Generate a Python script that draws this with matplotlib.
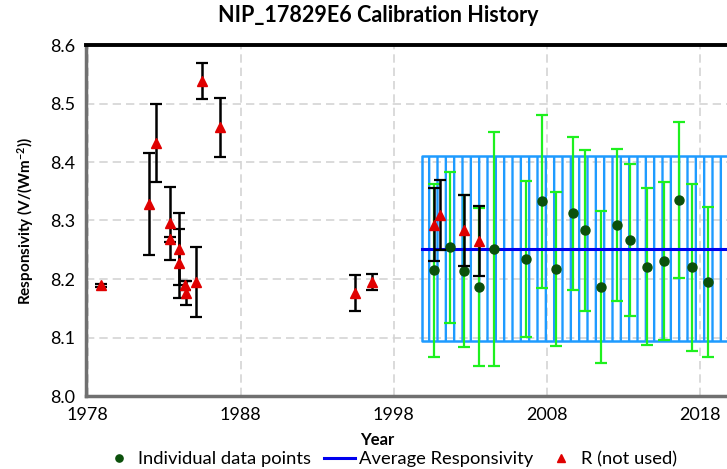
import numpy as np
import matplotlib
matplotlib.use('Agg')
import matplotlib.pyplot as plt

plt.rcParams['font.family'] = ['Lato', 'DejaVu Sans']
plt.rcParams['mathtext.default'] = 'regular'
plt.rcParams['hatch.linewidth'] = 1.7

# individual data points (used)
green_year = [2000.67, 2001.69, 2002.6, 2003.58, 2004.6, 2006.63, 2007.71, 2008.61, 2009.72,
              2010.52, 2011.56, 2012.63, 2013.48, 2014.54, 2015.65, 2016.63, 2017.52, 2018.54]
green_val = [8.215, 8.254, 8.214, 8.187, 8.252, 8.234, 8.333, 8.217, 8.312,
             8.283, 8.186, 8.293, 8.267, 8.221, 8.230, 8.335, 8.220, 8.195]
green_err = [0.148, 0.129, 0.130, 0.135, 0.200, 0.133, 0.148, 0.132, 0.130,
             0.138, 0.130, 0.130, 0.130, 0.134, 0.135, 0.133, 0.143, 0.128]

# R (not used)
red_year = [1978.9, 1982.0, 1982.5, 1983.4, 1983.4, 1984.0, 1984.0, 1984.35, 1984.45,
            1985.1, 1985.5, 1986.65, 1995.5, 1996.6, 2000.65, 2001.05, 2002.6, 2003.6]
red_val = [8.189, 8.328, 8.432, 8.295, 8.268, 8.251, 8.227, 8.189, 8.176,
           8.195, 8.539, 8.459, 8.176, 8.195, 8.293, 8.310, 8.283, 8.265]
red_err = [0.002, 0.087, 0.067, 0.062, 0.004, 0.062, 0.059, 0.008, 0.020,
           0.060, 0.031, 0.050, 0.030, 0.013, 0.063, 0.060, 0.060, 0.060]

# average responsivity and its uncertainty band
avg_resp = 8.251
band_lo = 8.094
band_hi = 8.410
band_years = [1999.85, 2023.0]

xticks = [1978, 1988, 1998, 2008, 2018]
yticks = [8.0, 8.1, 8.2, 8.3, 8.4, 8.5, 8.6]

fig = plt.figure(figsize=(7.27, 4.69), dpi=100)
ax = fig.add_axes([86 / 727, 73 / 469, 690 / 727, 351 / 469])

ax.fill_between(band_years, band_lo, band_hi, facecolor='none', edgecolor='#1E9BFF',
                hatch='||', linewidth=1.8, zorder=1)

ax.errorbar(green_year, green_val, yerr=green_err, fmt='none', ecolor='#1EF01E',
            elinewidth=1.6, capsize=4, capthick=1.6, zorder=2)
ax.plot(band_years, [avg_resp, avg_resp], color='#0000EE', lw=2.2, zorder=3,
        label='Average Responsivity')
ax.plot(green_year, green_val, 'o', color='#0B500B', markersize=6.5, zorder=4,
        label='Individual data points', linestyle='none')

ax.errorbar(red_year, red_val, yerr=red_err, fmt='none', ecolor='black',
            elinewidth=1.8, capsize=4, capthick=1.6, zorder=5)
ax.plot(red_year, red_val, '^', color='#E00000', markersize=7.5, zorder=6,
        label='R (not used)', linestyle='none')

ax.set_xlim(1977.9, 2023)
ax.set_ylim(8.0, 8.6)
ax.set_xticks(xticks)
ax.set_yticks(yticks)
ax.set_yticklabels([f'{v:.1f}' for v in yticks])
ax.tick_params(length=0, labelsize=13, pad=8)
ax.grid(True, color='#d4d4d4', linestyle=(0, (5, 3)), linewidth=1.2, zorder=0)
ax.set_axisbelow(True)

for side in ['left', 'bottom']:
    ax.spines[side].set_color('#707070')
    ax.spines[side].set_linewidth(2.5)
ax.spines['top'].set_color('black')
ax.spines['top'].set_linewidth(2.8)
ax.spines['right'].set_visible(False)

ax.set_ylabel('Responsivity (V/(Wm$^{-2}$))', fontsize=11, fontweight='bold', labelpad=10)
fig.text(377 / 727, 1 - 440 / 469, 'Year', ha='center', va='center',
         fontsize=12, fontweight='bold')
fig.text(378 / 727, 1 - 16 / 469, 'NIP_17829E6 Calibration History', ha='center',
         va='center', fontsize=15.5, fontweight='bold')

h, l = ax.get_legend_handles_labels()
order = [1, 0, 2]
leg = fig.legend([h[i] for i in order], [l[i] for i in order], loc='center',
                 bbox_to_anchor=(390 / 727, 1 - 459 / 469), ncol=3, fontsize=13.2,
                 frameon=True, facecolor='white', edgecolor='none', framealpha=1,
                 handlelength=1.7, handletextpad=0.2, columnspacing=0.7,
                 borderpad=0.2, markerscale=0.8)
leg.set_zorder(10)

fig.savefig('out.png', dpi=100)
